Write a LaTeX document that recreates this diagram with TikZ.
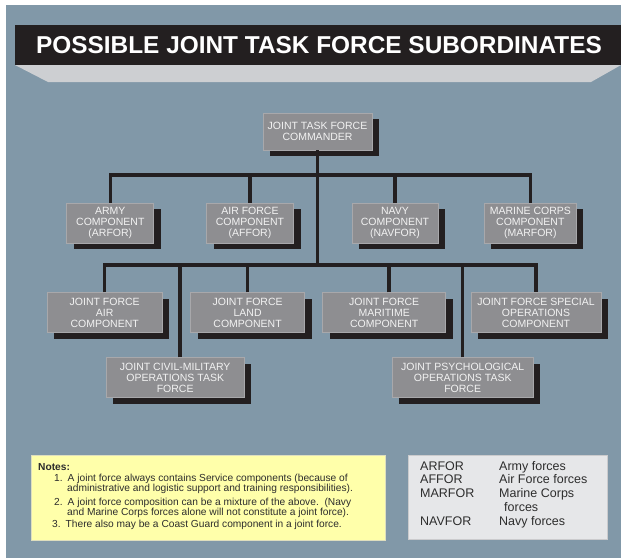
\documentclass[tikz,border=0pt]{standalone}
\usepackage{fontspec}
\setmainfont{Liberation Sans}
\usetikzlibrary{shadows}
\definecolor{slate}{RGB}{129,152,168}
\definecolor{ink}{RGB}{35,31,32}
\definecolor{ledge}{RGB}{205,207,210}
\definecolor{boxfill}{RGB}{142,142,145}
\definecolor{boxline}{RGB}{168,168,171}
\definecolor{boxtext}{RGB}{242,242,242}
\definecolor{notefill}{RGB}{255,255,170}
\definecolor{noteline}{RGB}{222,222,190}
\definecolor{keyfill}{RGB}{230,231,233}
\definecolor{notetext}{RGB}{45,45,45}
\begin{document}
\begin{tikzpicture}[x=1pt, y=-1pt,
		unit/.style = {draw=boxline, line width=0.8pt, fill=boxfill, text=boxtext,
			minimum height=40, inner sep=0pt, align=center,
			font=\fontsize{10.5}{11.3}\selectfont,
			drop shadow={shadow xshift=7pt, shadow yshift=-6pt, fill=ink, opacity=1}},
		link/.style = {draw=ink, line width=3.5pt, line join=miter}]
	\useasboundingbox (0,0) rectangle (621,558);
	\fill[white] (0,0) rectangle (621,558);
	\fill[slate] (6,5) rectangle (621,558);
	% title banner
	\fill[ink] (15,25) rectangle (621,65);
	\fill[ledge] (15,65) -- (621,65) -- (591,82) -- (48,82) -- cycle;
	\node[text=white, font=\fontsize{24.4}{24}\selectfont\bfseries] (title) at (319,45) {POSSIBLE JOINT TASK FORCE SUBORDINATES};
	% bus lines
	\coordinate (bus1) at (317.5,175);
	\coordinate (bus2) at (317.5,265);
	% commander and service components
	\node[unit, minimum width=109, minimum height=37] (cmd) at (317.5,131.5) {JOINT TASK FORCE\\COMMANDER};
	\node[unit, minimum width=87] (army) at (110.3,223) {ARMY\\COMPONENT\\(ARFOR)};
	\node[unit, minimum width=87] (airf) at (250,223) {AIR FORCE\\COMPONENT\\(AFFOR)};
	\node[unit, minimum width=86] (navy) at (395,223) {NAVY\\COMPONENT\\(NAVFOR)};
	\node[unit, minimum width=92] (marine) at (530.3,223) {MARINE CORPS\\COMPONENT\\(MARFOR)};
	% functional components
	\node[unit, minimum width=115] (jfacc) at (104.7,312.7) {JOINT FORCE\\AIR\\COMPONENT};
	\node[unit, minimum width=114] (jflcc) at (247.6,312.7) {JOINT FORCE\\LAND\\COMPONENT};
	\node[unit, minimum width=123] (jfmcc) at (384.2,312.7) {JOINT FORCE\\MARITIME\\COMPONENT};
	\node[unit, minimum width=130] (jfsoc) at (536,312.7) {JOINT FORCE SPECIAL\\OPERATIONS\\COMPONENT};
	\node[unit, minimum width=138] (jcmotf) at (175.2,377.7) {JOINT CIVIL-MILITARY\\OPERATIONS TASK\\FORCE};
	\node[unit, minimum width=141] (jpotf) at (462.7,377.7) {JOINT PSYCHOLOGICAL\\OPERATIONS TASK\\FORCE};
	% connectors
	\draw[link] (cmd.south) -- (cmd.south |- bus2);
	\draw[link] (army.north) |- (bus1) -| (marine.north);
	\draw[link] (airf.north) -- (airf.north |- bus1);
	\draw[link] (navy.north) -- (navy.north |- bus1);
	\draw[link] (jfacc.north) |- (bus2) -| (jfsoc.north);
	\draw[link] (jflcc.north) -- (jflcc.north |- bus2);
	\draw[link] ([xshift=5pt]jfmcc.north) -- ([xshift=5pt]jfmcc.north |- bus2);
	\draw[link] ([xshift=5pt]jcmotf.north) -- ([xshift=5pt]jcmotf.north |- bus2);
	\draw[link] (jpotf.north) -- (jpotf.north |- bus2);
	% notes
	\filldraw[fill=notefill, draw=noteline, line width=0.8pt] (31.5,455.5) rectangle (385,540.5);
	\node[anchor=north west, inner sep=0pt, align=left, text=notetext,
		font=\fontsize{10.2}{10.8}\selectfont] (notes) at (38,463) {%
		\textbf{Notes:}\\
		\hspace*{16pt}1.\hspace*{5pt}A joint force always contains Service components (because of\\
		\hspace*{29pt}administrative and logistic support and training responsibilities).\\[2.5pt]
		\hspace*{16pt}2.\hspace*{5pt}A joint force composition can be a mixture of the above.\ \ (Navy\\
		\hspace*{29pt}and Marine Corps forces alone will not constitute a joint force).\\[0.5pt]
		\hspace*{14pt}3.\hspace*{5pt}There also may be a Coast Guard component in a joint force.};
	% key
	\filldraw[fill=keyfill, draw=boxline!60, line width=0.8pt] (408.5,455.5) rectangle (607,539.5);
	\node[anchor=north west, inner sep=0pt, align=left, text=notetext,
		font=\fontsize{12.5}{13.7}\selectfont] (key) at (420,461) {%
		\makebox[79pt][l]{ARFOR}Army forces\\
		\makebox[79pt][l]{AFFOR}Air Force forces\\
		\makebox[79pt][l]{MARFOR}Marine Corps\\
		\makebox[84pt][l]{}forces\\
		\makebox[79pt][l]{NAVFOR}Navy forces};
\end{tikzpicture}
\end{document}
